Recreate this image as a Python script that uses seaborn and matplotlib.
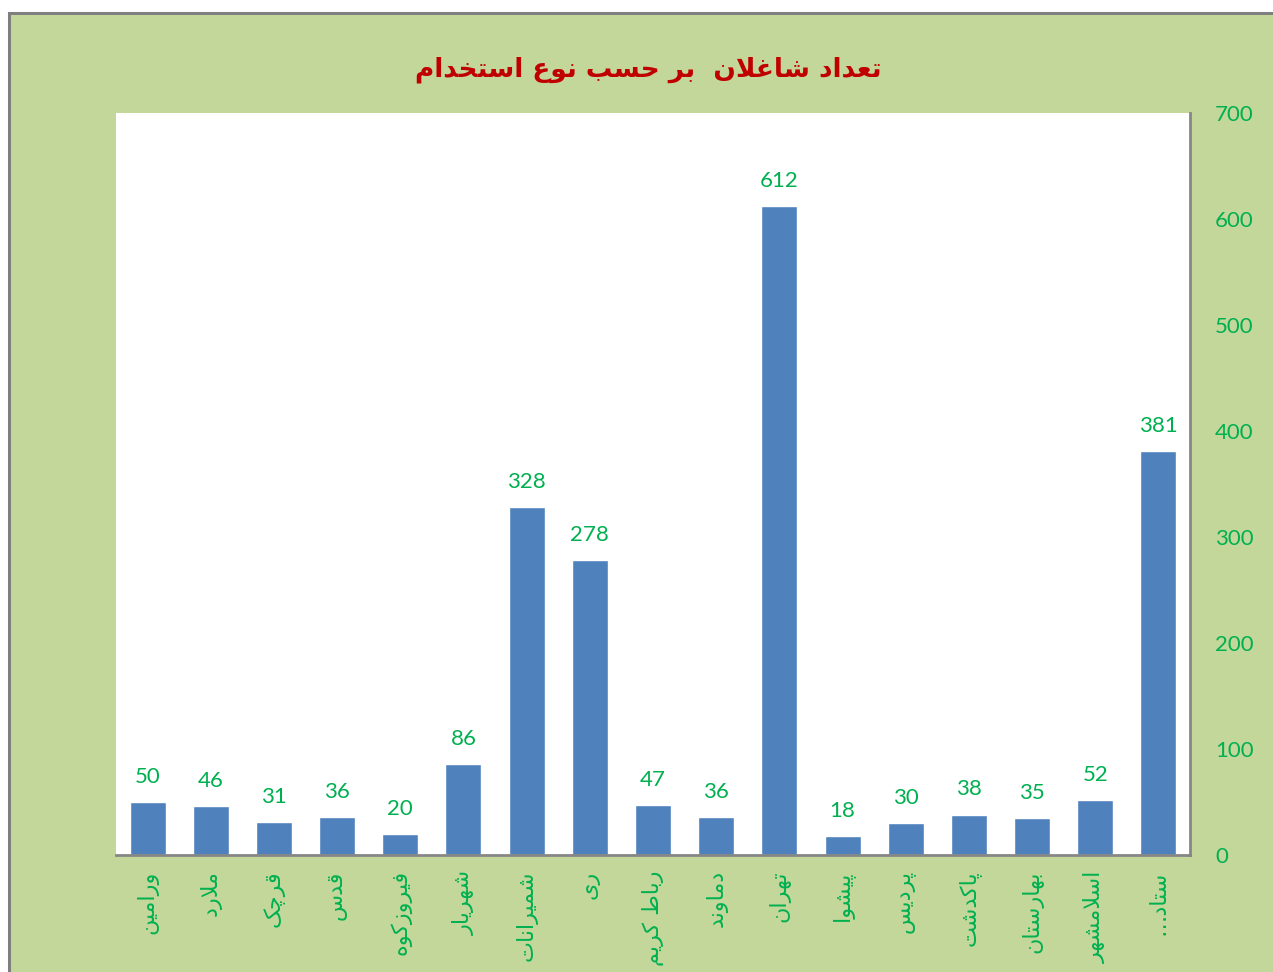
import matplotlib
matplotlib.use("Agg")
import matplotlib.pyplot as plt
from matplotlib.patches import Rectangle
import seaborn as sns
import pandas as pd

# ---- data ----
categories = ["ورامین", "ملارد", "قرچک", "قدس", "فیروزکوه", "شهریار", "شمیرانات",
              "ری", "رباط کریم", "دماوند", "تهران", "پیشوا", "پردیس", "پاکدشت",
              "بهارستان", "اسلامشهر", "ستاد…"]
values = [50, 46, 31, 36, 20, 86, 328, 278, 47, 36, 612, 18, 30, 38, 35, 52, 381]
yticks = [0, 100, 200, 300, 400, 500, 600, 700]
title = "تعداد شاغلان  بر حسب نوع استخدام"

# ---- minimal Arabic/Persian shaping (matplotlib has no complex text layout) ----
# char: (isolated, final, initial, medial); None for initial/medial = right-joining only
FORMS = {
    "ا": ("\uFE8D", "\uFE8E", None, None),
    "ب": ("\uFE8F", "\uFE90", "\uFE91", "\uFE92"),
    "پ": ("\uFB56", "\uFB57", "\uFB58", "\uFB59"),
    "ت": ("\uFE95", "\uFE96", "\uFE97", "\uFE98"),
    "چ": ("\uFB7A", "\uFB7B", "\uFB7C", "\uFB7D"),
    "ح": ("\uFEA1", "\uFEA2", "\uFEA3", "\uFEA4"),
    "خ": ("\uFEA5", "\uFEA6", "\uFEA7", "\uFEA8"),
    "د": ("\uFEA9", "\uFEAA", None, None),
    "ر": ("\uFEAD", "\uFEAE", None, None),
    "ز": ("\uFEAF", "\uFEB0", None, None),
    "س": ("\uFEB1", "\uFEB2", "\uFEB3", "\uFEB4"),
    "ش": ("\uFEB5", "\uFEB6", "\uFEB7", "\uFEB8"),
    "ط": ("\uFEC1", "\uFEC2", "\uFEC3", "\uFEC4"),
    "ع": ("\uFEC9", "\uFECA", "\uFECB", "\uFECC"),
    "غ": ("\uFECD", "\uFECE", "\uFECF", "\uFED0"),
    "ف": ("\uFED1", "\uFED2", "\uFED3", "\uFED4"),
    "ق": ("\uFED5", "\uFED6", "\uFED7", "\uFED8"),
    "ک": ("\uFB8E", "\uFB8F", "\uFB90", "\uFB91"),
    "ل": ("\uFEDD", "\uFEDE", "\uFEDF", "\uFEE0"),
    "م": ("\uFEE1", "\uFEE2", "\uFEE3", "\uFEE4"),
    "ن": ("\uFEE5", "\uFEE6", "\uFEE7", "\uFEE8"),
    "ه": ("\uFEE9", "\uFEEA", "\uFEEB", "\uFEEC"),
    "و": ("\uFEED", "\uFEEE", None, None),
    "ی": ("\uFBFC", "\uFBFD", "\uFBFE", "\uFBFF"),
}


def dual(c):
    return c in FORMS and FORMS[c][2] is not None


def shape(s):
    out = []
    i = 0
    n = len(s)
    while i < n:
        c = s[i]
        prev = s[i - 1] if i > 0 else None
        if c not in FORMS:
            out.append(c)
            i += 1
            continue
        cp = prev is not None and dual(prev)
        if c == "ل" and i + 1 < n and s[i + 1] == "ا":
            out.append("\uFEFC" if cp else "\uFEFB")
            i += 2
            continue
        nxt = s[i + 1] if i + 1 < n else None
        cn = dual(c) and nxt is not None and nxt in FORMS
        iso, fin, ini, med = FORMS[c]
        if cp and cn:
            out.append(med)
        elif cp:
            out.append(fin)
        elif cn:
            out.append(ini)
        else:
            out.append(iso)
        i += 1
    return "".join(out)[::-1]


labels = [shape(c) for c in categories]
df = pd.DataFrame({"cat": labels, "val": values})

# ---- style ----
sns.set_theme(style="white")
plt.rcParams["font.family"] = ["Lato", "DejaVu Sans"]

GREEN_BG = "#C4D79B"
TXT_GREEN = "#00B050"
BAR = "#4F81BD"
GRAY = "#868686"

W, H = 1273, 972
fig = plt.figure(figsize=(W / 100, H / 100), dpi=100, facecolor="white")
fig.add_artist(Rectangle((9 / W, -0.1), 1.2, 1 - 13 / H + 0.1,
                         transform=fig.transFigure, facecolor=GREEN_BG,
                         edgecolor="#7F7F7F", linewidth=2.2, zorder=-5))

ax = fig.add_axes([116 / W, 1 - 855 / H, (1190 - 116) / W, (855 - 113) / H])
ax.set_facecolor("white")

sns.barplot(data=df, x="cat", y="val", color=BAR, saturation=1, width=0.57,
            ax=ax, order=labels)

for cont in ax.containers:
    ax.bar_label(cont, padding=11, color=TXT_GREEN, fontsize=16,
                 family=["Lato", "DejaVu Sans"])

ax.set_ylim(0, 700)
ax.set_yticks(yticks)
ax.yaxis.tick_right()
ax.tick_params(axis="y", length=0, pad=18, labelsize=16, labelcolor=TXT_GREEN)
ax.tick_params(axis="x", length=0, pad=11, labelcolor=TXT_GREEN)
ax.set_xticks(range(len(labels)))
ax.set_xticklabels(labels, rotation=90, fontsize=16,
                   family=["DejaVu Sans"], va="top", ha="center")
ax.set_xlabel("")
ax.set_ylabel("")
ax.grid(False)

for s in ["top", "left"]:
    ax.spines[s].set_visible(False)
for s in ["right", "bottom"]:
    ax.spines[s].set_visible(True)
    ax.spines[s].set_color(GRAY)
    ax.spines[s].set_linewidth(2)

fig.text(648 / W, 1 - 70 / H, shape(title), ha="center", va="center",
         color="#C00000", fontsize=19, fontweight="bold",
         family=["DejaVu Sans"])

fig.savefig("out.png", dpi=100, facecolor="white")
